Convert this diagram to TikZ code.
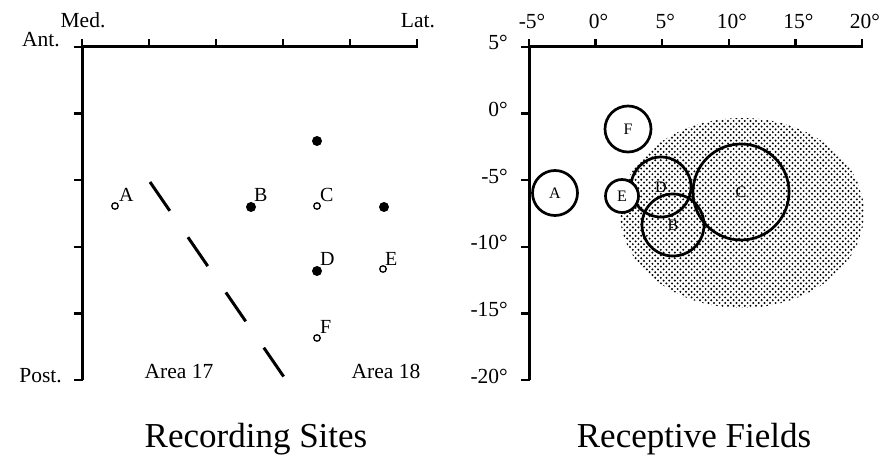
\documentclass[tikz,border=0pt]{standalone}
\usepackage{fontspec}
\setmainfont{Liberation Serif}
\usetikzlibrary{patterns}
\pgfdeclarepatternformonly{stipple}{\pgfqpoint{-1.5pt}{-1.5pt}}{\pgfqpoint{4.3pt}{4.3pt}}{\pgfqpoint{5.6pt}{5.6pt}}{%
  \pgfpathcircle{\pgfpointorigin}{1.1pt}%
  \pgfpathcircle{\pgfqpoint{2.8pt}{2.8pt}}{1.1pt}%
  \pgfusepath{fill}}
\begin{document}
\begin{tikzpicture}[x=1pt,y=-1pt,
  axisline/.style={line width=3pt},
  tickline/.style={line width=2.3pt},
  lbl/.style={font=\fontsize{21.5}{21.5}\selectfont, inner sep=0pt},
  ptlbl/.style={font=\fontsize{20}{20}\selectfont, inner sep=0pt, anchor=base west},
  ttl/.style={font=\fontsize{35}{35}\selectfont, inner sep=0pt, anchor=base},
  opendot/.style={circle, draw, line width=1.3pt, fill=white, inner sep=0pt, minimum size=6.5pt},
  fulldot/.style={circle, fill, inner sep=0pt, minimum size=10pt},
  rf/.style={circle, draw, line width=2.7pt, inner sep=0pt, font=\fontsize{16}{16}\selectfont},
  cutline/.style={line width=3pt, dash pattern=on 35pt off 32pt}]
\useasboundingbox (0,0) rectangle (894,457);

% ---------- Left panel: recording sites ----------
\coordinate (LO) at (82,47);
\coordinate (LB) at (82,380);
\coordinate (LR) at (418,47);
\draw[axisline] (LB) -- (LO) -- (LR);
\foreach \i in {0,...,5} {
  \draw[tickline] (82+67*\i,48) -- ++(0,-9);
  \draw[tickline] (83,47+66.6*\i) -- ++(-9,0);
}
\node[lbl, anchor=base] (med) at (83,28) {Med.};
\node[lbl, anchor=base] (lat) at (418,28) {Lat.};
\node[lbl, anchor=base east] (ant) at (60,47) {Ant.};
\node[lbl, anchor=base east] (post) at (62,382) {Post.};

\node[fulldot] (p1) at (317,141) {};
\node[opendot] (pA) at (115,206) {};
\node[fulldot] (pB) at (251,207) {};
\node[opendot] (pC) at (317,206) {};
\node[fulldot] (p2) at (384,207) {};
\node[fulldot] (pD) at (317,271) {};
\node[opendot] (pE) at (383,269) {};
\node[opendot] (pF) at (317,338) {};
\node[ptlbl] (lA) at (119,202) {A};
\node[ptlbl] (lB) at (254,202) {B};
\node[ptlbl] (lC) at (320,202) {C};
\node[ptlbl] (lD) at (320,265) {D};
\node[ptlbl] (lE) at (385,265) {E};
\node[ptlbl] (lF) at (320,333) {F};

\coordinate (c1) at (150,182);
\coordinate (c2) at (286,380);
\draw[cutline] (c1) -- (c2);

\node[lbl, anchor=base] (a17) at (179,378) {Area 17};
\node[lbl, anchor=base] (a18) at (386,378) {Area 18};

\node[ttl] (t1) at (256,447) {Recording Sites};

% ---------- Right panel: receptive fields ----------
\coordinate (RO) at (529,47);
\coordinate (RB) at (529,380);
\coordinate (RR) at (863,47);
\draw[axisline] (RB) -- (RO) -- (RR);
\foreach \i/\t in {0/-5°,1/0°,2/5°,3/10°,4/15°,5/20°} {
  \draw[tickline] (529+66.6*\i,48) -- ++(0,-9);
  \node[lbl, anchor=base] at (532+66.6*\i,29) {\t};
}
\foreach \i/\t in {0/5°,1/0°,2/-5°,3/-10°,4/-15°,5/-20°} {
  \draw[tickline] (530,47+66.6*\i) -- ++(-9,0);
  \node[lbl, anchor=base east] at (508,50+66.6*\i) {\t};
}

\fill[pattern=stipple] (742,213) ellipse [x radius=122pt, y radius=95pt];

\node[rf, minimum size=46pt, fill=white] (F) at (628,129) {F};
\node[rf, minimum size=45pt, fill=white] (A) at (555,193) {A};
\node[rf, minimum size=60pt] (D) at (661,187) {D};
\node[rf, minimum size=62pt] (B) at (673,225) {B};
\node[rf, minimum size=96pt] (C) at (741,192) {C};
\node[rf, minimum size=33pt, fill=white] (E) at (622,196) {E};

\node[ttl] (t2) at (694,447) {Receptive Fields};
\end{tikzpicture}
\end{document}
